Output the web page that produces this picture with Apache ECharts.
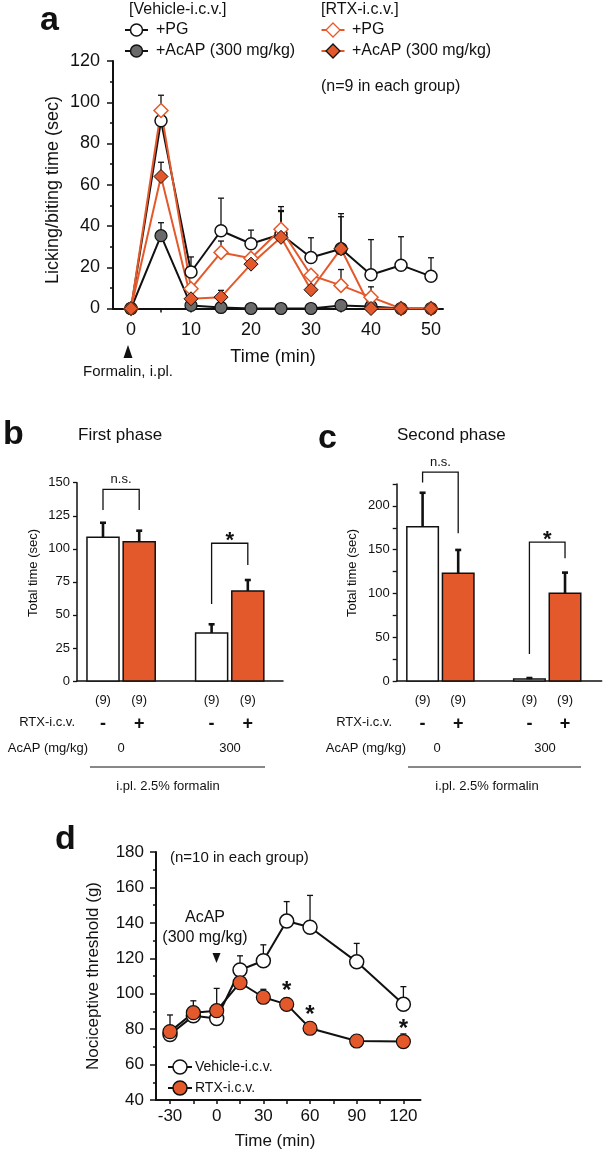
<!DOCTYPE html>
<html><head><meta charset="utf-8">
<script src="https://cdn.jsdelivr.net/npm/echarts@6/dist/echarts.min.js"></script>
<style>html,body{margin:0;padding:0;background:#fff}#c{width:603px;height:1150px}</style>
</head><body><div id="c"></div><script>
const FONT = '"Liberation Sans", Arial, Helvetica, sans-serif';
const ORANGE = '#E4592B', GRAY = '#6a6a6a', INK = '#111';

// ---- Panel a: time course (formalin test) ----
const aTimes = [0, 5, 10, 15, 20, 25, 30, 35, 40, 45, 50];
const aVehPG = [0, 91, 17.7, 37.7, 31.4, 36, 24.7, 29, 16.4, 21, 15.6];
const aVehPGErr = [0, 3, 7.3, 15.8, 6.6, 11, 9.6, 15.5, 17, 13.8, 9];
const aVehAcAP = [0, 35.3, 1.5, 0.5, 0, 0, 0, 1.5, 1, 0, 0];
const aVehAcAPErr = [0, 6.3, 0, 0, 0, 0, 0, 0, 0, 0, 0];
const aRtxPG = [0, 96, 9.6, 27.2, 24.4, 38.4, 16.1, 11.2, 5.5, 0, 0];
const aRtxPGErr = [0, 7.4, 0, 5.5, 0, 11, 0, 7.7, 5, 0, 0];
const aRtxAcAP = [0, 64, 4.7, 5.5, 21.5, 34.5, 9.1, 29, 0, 0, 0];
const aRtxAcAPErr = [0, 6.9, 0, 3.3, 0, 13, 0, 17, 0, 0, 0];
const aXLabels = [0, 10, 20, 30, 40, 50];
const aXTicks = [0, 5, 10, 15, 20, 25, 30, 35, 40, 45, 50];

// ---- Panels b & c: bars ----
const barGroups = ['Vehicle', 'RTX', '', 'Vehicle', 'RTX'];
const barN = ['(9)', '(9)', '', '(9)', '(9)'];
const barRtxSign = ['-', '+', '', '-', '+'];
const bMeans = [108.7, 105.4, null, 36.3, 68.1];
const bErr = [11, 8.3, null, 6.6, 8.3];
const cMeans = [176.3, 123, null, 2.3, 100.2];
const cErr = [38.7, 26.7, null, 1.1, 23.6];
// brackets: [x1, x2, yTop, yLeftEnd, yRightEnd, label]
const bBrackets = [[0, 1, 145, 129.3, 129.3, 'n.s.'], [3, 4, 104.2, 58.2, 87.7, '*']];
const cBrackets = [[0, 1, 238.5, 226.6, 168.8, 'n.s.'], [3, 4, 158.5, 30.9, 140.2, '*']];
const cYLabels = [0, 50, 100, 150, 200];
const cYTicks = [0, 25, 50, 75, 100, 125, 150, 175, 200, 225];

// ---- Panel d: nociceptive threshold ----
const dTimes = [-30, -15, 0, 15, 30, 45, 60, 90, 120];
const dVeh = [77, 87.5, 86, 113.4, 118.6, 141, 137.5, 118, 94];
const dVehErr = [11, 8.5, 17, 8, 9, 11, 18, 10.4, 10];
const dRtx = [78.6, 89.3, 90.4, 106.2, 98, 94, 80.5, 73.3, 73];
const dRtxErr = [0, 0, 0, 0, 4.5, 2.5, 2.5, 0, 4.3];
const dSig = ['', '', '', '', '', '*', '*', '', '*'];
const dXLabels = [-30, 0, 30, 60, 90, 120];
const dXTicks = [-30, -15, 0, 15, 30, 45, 60, 75, 90, 105, 120];

const chart = echarts.init(document.getElementById('c'), null, {renderer: 'canvas'});

function errRender(lw, capHalf) {
  return function (params, api) {
    const x = api.value(0), v = api.value(1), e = api.value(2);
    if (!(e > 0)) return null;
    const p = api.coord([x, v]), c = api.coord([x, v + e]);
    return {type: 'group', children: [
      {type: 'line', shape: {x1: p[0], y1: p[1], x2: c[0], y2: c[1]}, style: {stroke: INK, lineWidth: lw}},
      {type: 'line', shape: {x1: c[0] - capHalf, y1: c[1], x2: c[0] + capHalf, y2: c[1]}, style: {stroke: INK, lineWidth: lw}}
    ]};
  };
}
function barRender(params, api) {
  const x = api.value(0), v = api.value(1), e = api.value(2), isRtx = api.value(3);
  const w = api.size([1, 0])[0] * 0.885;
  const top = api.coord([x, v]), base = api.coord([x, 0]);
  const ch = [{type: 'rect', shape: {x: top[0] - w / 2, y: top[1], width: w, height: base[1] - top[1]},
    style: {fill: isRtx ? ORANGE : '#fff', stroke: INK, lineWidth: 1.5}}];
  if (e > 0) {
    const c = api.coord([x, v + e]);
    ch.push({type: 'line', shape: {x1: top[0], y1: top[1], x2: c[0], y2: c[1]}, style: {stroke: INK, lineWidth: 2.6}});
    ch.push({type: 'line', shape: {x1: c[0] - 3, y1: c[1], x2: c[0] + 3, y2: c[1]}, style: {stroke: INK, lineWidth: 2.6}});
  }
  return {type: 'group', children: ch};
}
function bracketRender(params, api) {
  const x1 = api.value(0), x2 = api.value(1), yt = api.value(2), yl = api.value(3), yr = api.value(4);
  const a = api.coord([x1, yt]), b = api.coord([x2, yt]), l = api.coord([x1, yl]), r = api.coord([x2, yr]);
  const label = params.dataIndex === 0 ? 'n.s.' : '*';
  const isStar = label === '*';
  return {type: 'group', children: [
    {type: 'polyline', shape: {points: [l, a, b, r]}, style: {stroke: INK, lineWidth: 1.3, fill: null}},
    {type: 'text', x: (a[0] + b[0]) / 2, y: a[1] - (isStar ? 2 : 3),
      style: {text: label, font: (isStar ? 'bold 22px ' : '13px ') + FONT, fill: INK, align: 'center', verticalAlign: isStar ? 'middle' : 'bottom'}}
  ]};
}
const barData = (means, errs) => barGroups.map((g, i) => g ? [i, means[i], errs[i], g === 'RTX' ? 1 : 0] : null).filter(Boolean);
const bracketData = br => br.map(r => r.slice(0, 5));
const pairs = (xs, ys) => xs.map((x, i) => [x, ys[i]]);
const triples = (xs, ys, es) => xs.map((x, i) => [x, ys[i], es[i]]);

const axLine = w => ({show: true, onZero: false, lineStyle: {color: INK, width: w}});
const tickSt = (len, w) => ({show: true, length: len, lineStyle: {color: INK, width: w}});

const barXLabel = {
  customValues: [0, 1, 3, 4], margin: 7,
  formatter: v => '{n|' + barN[v] + '}\n{s|' + barRtxSign[v] + '}',
  rich: {n: {fontSize: 13, lineHeight: 24, fontFamily: FONT, color: INK},
         s: {fontSize: 18, fontWeight: 'bold', lineHeight: 24, fontFamily: FONT, color: INK}}
};

const option = {
  animation: false,
  backgroundColor: '#fff',
  textStyle: {fontFamily: FONT, color: INK},
  grid: [
    {left: 113, top: 61, width: 330, height: 247.5},
    {left: 77, top: 482.7, width: 206, height: 198.3},
    {left: 396.7, top: 484, width: 205, height: 197},
    {left: 156, top: 852, width: 264.5, height: 248}
  ],
  xAxis: [
    {gridIndex: 0, type: 'value', min: -3, max: 52, axisLine: axLine(2), splitLine: {show: false},
      axisTick: Object.assign(tickSt(4, 1.5), {customValues: aXTicks}),
      axisLabel: {customValues: aXLabels, fontSize: 18, margin: 13, color: INK, fontFamily: FONT}},
    {gridIndex: 1, type: 'value', min: -0.718, max: 4.972, axisLine: axLine(1.5), splitLine: {show: false},
      axisTick: {show: false}, axisLabel: barXLabel},
    {gridIndex: 2, type: 'value', min: -0.727, max: 5.03, axisLine: axLine(1.5), splitLine: {show: false},
      axisTick: {show: false}, axisLabel: barXLabel},
    {gridIndex: 3, type: 'value', min: -39, max: 131, axisLine: axLine(2), splitLine: {show: false},
      axisTick: Object.assign(tickSt(4, 1.5), {customValues: dXTicks}),
      axisLabel: {customValues: dXLabels, fontSize: 17, margin: 8, color: INK, fontFamily: FONT}}
  ],
  yAxis: [
    {gridIndex: 0, type: 'value', min: 0, max: 120, interval: 20, axisLine: axLine(2), splitLine: {show: false},
      axisTick: tickSt(6, 1.5), minorTick: {show: true, splitNumber: 2, length: 3, lineStyle: {color: INK, width: 1.5}},
      minorSplitLine: {show: false}, axisLabel: {fontSize: 18, margin: 13, color: INK, fontFamily: FONT}},
    {gridIndex: 1, type: 'value', min: 0, max: 150, interval: 25, axisLine: axLine(1.5), splitLine: {show: false},
      axisTick: tickSt(4, 1.3), axisLabel: {fontSize: 13, margin: 7, color: INK, fontFamily: FONT}},
    {gridIndex: 2, type: 'value', min: 0, max: 225, axisLine: axLine(1.5), splitLine: {show: false},
      axisTick: Object.assign(tickSt(4, 1.3), {customValues: cYTicks}),
      axisLabel: {customValues: cYLabels, fontSize: 13, margin: 7, color: INK, fontFamily: FONT}},
    {gridIndex: 3, type: 'value', min: 40, max: 180, interval: 20, axisLine: axLine(2), splitLine: {show: false},
      axisTick: tickSt(6, 1.5), minorTick: {show: true, splitNumber: 2, length: 3, lineStyle: {color: INK, width: 1.5}},
      minorSplitLine: {show: false}, axisLabel: {fontSize: 17, margin: 12, color: INK, fontFamily: FONT}}
  ],
  series: [
    // panel a error bars
    {type: 'custom', xAxisIndex: 0, yAxisIndex: 0, clip: false, renderItem: errRender(1.3, 3), data: triples(aTimes, aVehAcAP, aVehAcAPErr), z: 1},
    {type: 'custom', xAxisIndex: 0, yAxisIndex: 0, clip: false, renderItem: errRender(1.3, 3), data: triples(aTimes, aVehPG, aVehPGErr), z: 1},
    {type: 'custom', xAxisIndex: 0, yAxisIndex: 0, clip: false, renderItem: errRender(1.3, 3), data: triples(aTimes, aRtxPG, aRtxPGErr), z: 1},
    {type: 'custom', xAxisIndex: 0, yAxisIndex: 0, clip: false, renderItem: errRender(1.3, 3), data: triples(aTimes, aRtxAcAP, aRtxAcAPErr), z: 1},
    // panel a lines
    {name: 'Vehicle +AcAP', type: 'line', xAxisIndex: 0, yAxisIndex: 0, data: pairs(aTimes, aVehAcAP),
      symbol: 'circle', symbolSize: 12, lineStyle: {color: INK, width: 2}, itemStyle: {color: GRAY, borderColor: INK, borderWidth: 1.2}},
    {name: 'Vehicle +PG', type: 'line', xAxisIndex: 0, yAxisIndex: 0, data: pairs(aTimes, aVehPG),
      symbol: 'circle', symbolSize: 12, lineStyle: {color: INK, width: 2}, itemStyle: {color: '#fff', borderColor: INK, borderWidth: 1.5}},
    {name: 'RTX +PG', type: 'line', xAxisIndex: 0, yAxisIndex: 0, data: pairs(aTimes, aRtxPG),
      symbol: 'diamond', symbolSize: 14, lineStyle: {color: ORANGE, width: 2}, itemStyle: {color: '#fff', borderColor: ORANGE, borderWidth: 1.5}},
    {name: 'RTX +AcAP', type: 'line', xAxisIndex: 0, yAxisIndex: 0, data: pairs(aTimes, aRtxAcAP),
      symbol: 'diamond', symbolSize: 14, lineStyle: {color: ORANGE, width: 2}, itemStyle: {color: ORANGE, borderColor: INK, borderWidth: 1}},
    // panel b
    {type: 'custom', xAxisIndex: 1, yAxisIndex: 1, clip: false, renderItem: barRender, data: barData(bMeans, bErr)},
    {type: 'custom', xAxisIndex: 1, yAxisIndex: 1, clip: false, renderItem: bracketRender, data: bracketData(bBrackets)},
    // panel c
    {type: 'custom', xAxisIndex: 2, yAxisIndex: 2, clip: false, renderItem: barRender, data: barData(cMeans, cErr)},
    {type: 'custom', xAxisIndex: 2, yAxisIndex: 2, clip: false, renderItem: bracketRender, data: bracketData(cBrackets)},
    // panel d
    {type: 'custom', xAxisIndex: 3, yAxisIndex: 3, clip: false, renderItem: errRender(1.3, 3), data: triples(dTimes, dVeh, dVehErr), z: 1},
    {type: 'custom', xAxisIndex: 3, yAxisIndex: 3, clip: false, renderItem: errRender(1.3, 3), data: triples(dTimes, dRtx, dRtxErr), z: 1},
    {name: 'Vehicle-i.c.v.', type: 'line', xAxisIndex: 3, yAxisIndex: 3, data: pairs(dTimes, dVeh),
      symbol: 'circle', symbolSize: 14, lineStyle: {color: INK, width: 2}, itemStyle: {color: '#fff', borderColor: INK, borderWidth: 1.5}},
    {name: 'RTX-i.c.v.', type: 'line', xAxisIndex: 3, yAxisIndex: 3, data: pairs(dTimes, dRtx),
      symbol: 'circle', symbolSize: 14, lineStyle: {color: INK, width: 2}, itemStyle: {color: ORANGE, borderColor: INK, borderWidth: 1.2},
      label: {show: true, position: 'top', distance: 2, offset: [0, 9], formatter: p => dSig[p.dataIndex], fontSize: 24, fontWeight: 'bold', color: INK, fontFamily: FONT}}
  ]
};

function txt(x, y, text, size, opts) {
  opts = opts || {};
  return {type: 'text', x: x, y: y, rotation: opts.rot || 0, z: 50,
    style: {text: text, font: (opts.bold ? 'bold ' : '') + size + 'px ' + FONT, fill: INK,
      align: opts.align || 'left', verticalAlign: opts.va || 'middle'}};
}
function legendSym(cx, cy, half, shape, fill, stroke, lineColor, r) {
  const g = [{type: 'line', z: 50, shape: {x1: cx - half, y1: cy, x2: cx + half, y2: cy}, style: {stroke: lineColor, lineWidth: 2}}];
  if (shape === 'circle') g.push({type: 'circle', z: 51, shape: {cx: cx, cy: cy, r: r}, style: {fill: fill, stroke: stroke, lineWidth: 1.5}});
  else g.push({type: 'polygon', z: 51, shape: {points: [[cx, cy - r], [cx + r, cy], [cx, cy + r], [cx - r, cy]]}, style: {fill: fill, stroke: stroke, lineWidth: 1.3}});
  return g;
}

const graphics = [
  // panel labels
  txt(40, 4, 'a', 34, {bold: true, va: 'top'}),
  txt(3, 418, 'b', 34, {bold: true, va: 'top'}),
  txt(318, 422, 'c', 34, {bold: true, va: 'top'}),
  txt(55, 823, 'd', 34, {bold: true, va: 'top'}),
  // panel a legend
  txt(129, 10, '[Vehicle-i.c.v.]', 16),
  txt(156, 30, '+PG', 16),
  txt(156, 51, '+AcAP (300 mg/kg)', 16),
  txt(321, 10, '[RTX-i.c.v.]', 16),
  txt(352, 30, '+PG', 16),
  txt(352, 51, '+AcAP (300 mg/kg)', 16),
  txt(321, 87, '(n=9 in each group)', 16),
  ...legendSym(136.5, 30, 11.5, 'circle', '#fff', INK, INK, 6),
  ...legendSym(136.5, 51, 11.5, 'circle', GRAY, INK, INK, 6),
  ...legendSym(333, 30, 11.5, 'diamond', '#fff', ORANGE, ORANGE, 7),
  ...legendSym(333, 51, 11.5, 'diamond', ORANGE, INK, ORANGE, 7),
  // panel a axis names & annotation
  txt(53, 190, 'Licking/biting time (sec)', 18, {rot: Math.PI / 2, align: 'center'}),
  txt(273, 357, 'Time (min)', 18, {align: 'center'}),
  {type: 'polygon', z: 50, shape: {points: [[128, 345], [132.5, 358], [123.5, 358]]}, style: {fill: INK}},
  txt(128, 372, 'Formalin, i.pl.', 15, {align: 'center'}),
  // panel b/c titles, axis names, rows
  txt(78, 435, 'First phase', 17),
  txt(397, 435, 'Second phase', 17),
  txt(33, 573, 'Total time (sec)', 13, {rot: Math.PI / 2, align: 'center'}),
  txt(352, 573, 'Total time (sec)', 13, {rot: Math.PI / 2, align: 'center'}),
  txt(75, 722, 'RTX-i.c.v.', 13, {align: 'right'}),
  txt(392, 722, 'RTX-i.c.v.', 13, {align: 'right'}),
  txt(88, 748, 'AcAP (mg/kg)', 13, {align: 'right'}),
  txt(406, 748, 'AcAP (mg/kg)', 13, {align: 'right'}),
  txt(121, 748, '0', 13, {align: 'center'}),
  txt(230, 748, '300', 13, {align: 'center'}),
  txt(437, 748, '0', 13, {align: 'center'}),
  txt(545, 748, '300', 13, {align: 'center'}),
  {type: 'line', z: 50, shape: {x1: 90, y1: 767, x2: 265, y2: 767}, style: {stroke: INK, lineWidth: 1}},
  {type: 'line', z: 50, shape: {x1: 408, y1: 767, x2: 581, y2: 767}, style: {stroke: INK, lineWidth: 1}},
  txt(168, 786, 'i.pl. 2.5% formalin', 13, {align: 'center'}),
  txt(487, 786, 'i.pl. 2.5% formalin', 13, {align: 'center'}),
  // panel d
  txt(170, 858, '(n=10 in each group)', 15),
  txt(205, 918, 'AcAP', 16, {align: 'center'}),
  txt(205, 938, '(300 mg/kg)', 16, {align: 'center'}),
  {type: 'polygon', z: 50, shape: {points: [[212.5, 953], [220.5, 953], [216.5, 963]]}, style: {fill: INK}},
  txt(93, 976, 'Nociceptive threshold (g)', 17, {rot: Math.PI / 2, align: 'center'}),
  txt(275, 1141, 'Time (min)', 17, {align: 'center'}),
  ...legendSym(180, 1067, 12, 'circle', '#fff', INK, INK, 7),
  ...legendSym(180, 1088, 12, 'circle', ORANGE, INK, INK, 7),
  txt(195, 1067, 'Vehicle-i.c.v.', 14),
  txt(195, 1088, 'RTX-i.c.v.', 14)
];
option.graphic = {elements: graphics};
chart.setOption(option);
</script></body></html>
